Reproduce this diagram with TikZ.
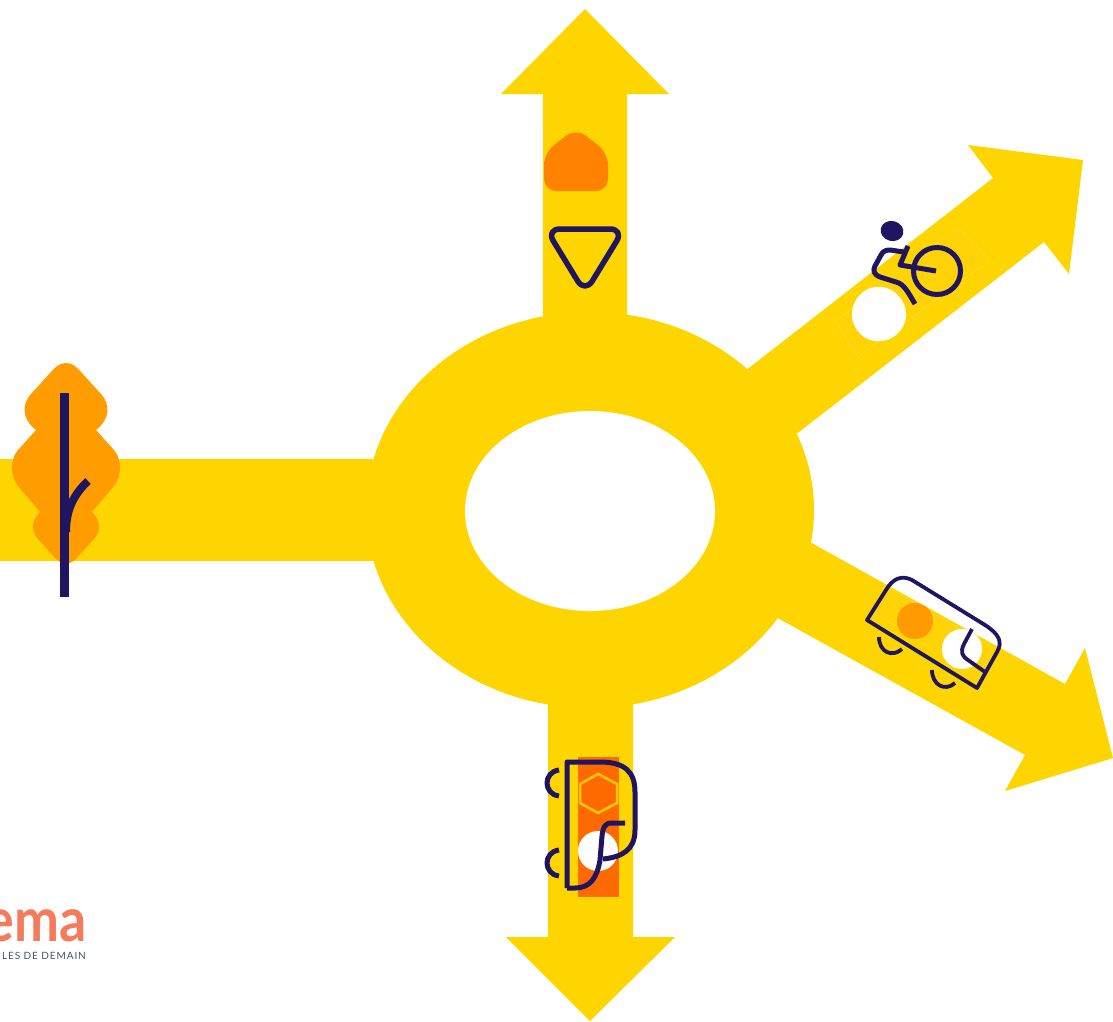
\documentclass[tikz,border=0pt]{standalone}
\usepackage{fontspec}
\setmainfont{Lato}
\newfontfamily\logofont{Lato}
\newfontfamily\tagfont[LetterSpace=9]{Lato}
\definecolor{road}{HTML}{FFD500}
\definecolor{roadfaint}{HTML}{FFD306}
\definecolor{roadedge}{HTML}{FFDC30}
\definecolor{navy}{HTML}{1F1560}
\definecolor{leaf}{HTML}{FF9D00}
\definecolor{house}{HTML}{FF8200}
\definecolor{redor}{HTML}{FF6A00}
\definecolor{hexline}{HTML}{FFC800}
\definecolor{logoa}{HTML}{F47B5C}
\definecolor{logob}{HTML}{3F5375}
\definecolor{dotor}{HTML}{FF9A00}
\tikzset{
  x=1pt,y=-1pt,
  roadfill/.style={fill=road,draw=none},
  icon/.style={draw=navy,line width=5pt,line join=round,fill=none},
  thin icon/.style={icon,line width=3.8pt},
  cycle icon/.style={icon,line width=5pt},
  whitedot/.style={fill=white,draw=none},
  faint/.style={fill=roadfaint,draw=roadedge,line width=0.6pt},
}
\begin{document}
\begin{tikzpicture}
\useasboundingbox (0,0) rectangle (1113,1021);
\clip (0,0) rectangle (1113,1021);
% roads
\fill[roadfill] (543,400) -- (543,94) -- (501,94) -- (585,9) -- (669,94) -- (627,94) -- (627,400) -- cycle;
\fill[roadfill] (548,600) -- (548,937) -- (506,937) -- (590,1021) -- (675,937) -- (633,937) -- (633,600) -- cycle;
\fill[roadfill] (0,459) -- (400,459) -- (400,561) -- (0,561) -- cycle;
\fill[roadfill] (700,406) -- (993,178) -- (968,145) -- (1083,160) -- (1069,274) -- (1044,242) -- (750,470) -- cycle;
\fill[roadfill] (720,492) -- (1065,684) -- (1085,648) -- (1113,758) -- (1005,791) -- (1025,755) -- (700,575) -- cycle;
\fill[roadfill] (590,510) ellipse [x radius=224, y radius=198];
\fill[white] (590,511) ellipse [x radius=125, y radius=100];
% tree
\fill[leaf] (66,363) .. controls (59,363) and (55,367.5) .. (51,372)
  -- (31,394) .. controls (22,404) and (21,418) .. (36,430)
  -- (18,450) .. controls (10,459) and (10,476.5) .. (18,486)
  -- (40,512) .. controls (32,520) and (30,530) .. (38,539)
  -- (56,559) .. controls (62,565) and (70,565) .. (76,559)
  -- (94,539) .. controls (102,530) and (100,520) .. (92,512)
  -- (114,486) .. controls (122,476.5) and (122,459) .. (114,450)
  -- (96,430) .. controls (111,418) and (110,404) .. (101,394)
  -- (81,372) .. controls (77,367.5) and (73,363) .. (66,363) -- cycle;
\draw[navy,line width=9pt] (64.5,393) -- (64.5,597);
\draw[navy,line width=8pt] (66,532) .. controls (66,512) and (72,496) .. (88,481);
% house
\fill[house,rounded corners=12pt] (576,128) -- (608,153) -- (608,191) -- (544,191) -- (544,153) -- cycle;
% triangle
\draw[icon,line width=5.5pt,rounded corners=14pt] (546,229) -- (624,229) -- (585,293) -- cycle;
% cyclist
\path[faint] (835,321) -- (958,227) -- (990,260) -- (858,357) -- cycle;
\fill[whitedot,rounded corners=9pt] (867,287) -- (890,287) -- (906,304) -- (906,325) -- (890,341) -- (867,341) -- (852,325) -- (852,304) -- cycle;
\fill[navy,rotate around={-15:(892,231)}] (892,231) ellipse [x radius=11.5, y radius=10];
\draw[cycle icon] (937,271) circle [radius=23.5];
\draw[cycle icon] (915,304) .. controls (908,292) and (904,284) .. (896,282) -- (880,277) .. controls (873,274) and (873,270) .. (875,266) -- (881,255) .. controls (883,251) and (886,250) .. (890,250) -- (904,252);
\draw[cycle icon] (908,246) -- (900,265) -- (936,271);
% SE vehicle
\path[faint] (885,585) -- (992,648) -- (978,677) -- (873,612) -- cycle;
\fill[dotor] (915,621) circle [radius=18];
\fill[whitedot] (962,649) circle [radius=20];
\draw[thin icon] (867,620) -- (886,590) .. controls (893,578) and (902,575) .. (912,580) -- (985,625) .. controls (999,634) and (1003,642) .. (997,652) -- (977,688) -- cycle;
\draw[thin icon] (972,629) -- (964,644) .. controls (960,652) and (962,656) .. (968,660) -- (985,672);
\draw[thin icon] (879,637) .. controls (879,652) and (892,658) .. (902,649);
\draw[thin icon] (932,670) .. controls (932,685) and (945,692) .. (955,683);
% S vehicle
\fill[redor] (578,757) rectangle (619,897);
\fill[redor,draw=hexline,line width=2.5pt] (598,774) -- (617,784) -- (617,803) -- (598,813) -- (580,803) -- (580,784) -- cycle;
\fill[whitedot] (598,851) circle [radius=20];
\draw[icon] (567,888) -- (567,762) -- (600,762) .. controls (625,762) and (635,772) .. (635,792) -- (635,830) .. controls (635,850) and (622,857) .. (603,859);
\draw[icon] (625,823) -- (612,823) .. controls (604,823) and (603,828) .. (602,836) -- (600,860) .. controls (597,878) and (590,888) .. (575,888) -- (567,888);
\draw[icon] (559,770) .. controls (543,772) and (543,794) .. (559,796);
\draw[icon] (559,850) .. controls (543,852) and (543,874) .. (559,876);
% logo
\node[anchor=base east,inner sep=0pt,text=logoa] (logomark) at (87,941) {\scalebox{0.88}[1]{\logofont\fontsize{61}{61}\selectfont\bfseries ema}};
\node[anchor=base east,inner sep=0pt,text=logob] (logotag) at (86,959) {\tagfont\fontsize{10}{10}\selectfont LES DE DEMAIN};
\end{tikzpicture}
\end{document}
